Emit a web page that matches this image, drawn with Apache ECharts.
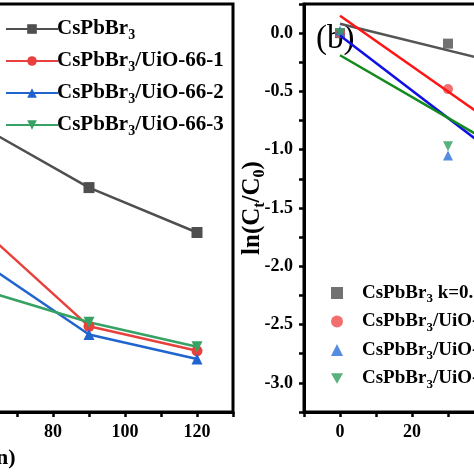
<!DOCTYPE html>
<html><head><meta charset="utf-8">
<script src="https://cdn.jsdelivr.net/npm/echarts/dist/echarts.min.js"></script>
<style>html,body{margin:0;padding:0;background:#fff;}#c{width:474px;height:474px;}</style>
</head><body><div id="c"></div>
<script>
// ---- data ----
const times = [0, 30, 60, 90, 120];
const seriesNames = ['CsPbBr3', 'CsPbBr3/UiO-66-1', 'CsPbBr3/UiO-66-2', 'CsPbBr3/UiO-66-3'];
// panel (a): C/C0 vs time
const ratioCs = [1.0, 0.85, 0.70, 0.55, 0.44];
const ratioU1 = [1.0, 0.66, 0.45, 0.21, 0.15];
const ratioU2 = [1.0, 0.56, 0.37, 0.19, 0.13];
const ratioU3 = [1.0, 0.52, 0.30, 0.22, 0.16];
// panel (b): ln(Ct/C0) vs time
const lnCs = [0.0, -0.09, -0.35, -0.60, -0.82];
const lnU1 = [0.0, -0.48, -1.20, -1.90, -2.50];
const lnU2 = [0.02, -1.05, -1.35, -2.05, -2.85];
const lnU3 = [0.0, -0.97, -1.15, -1.65, -2.30];
const kLabels = ['k=0.0076', 'k=0.0217', 'k=0.0236', 'k=0.0179'];
// linear fit end points (t = 0 and t = 120)
const fitTimes = [0, 120];
const fitCs = [0.08, -0.83];
const fitU1 = [0.15, -2.45];
const fitU2 = [-0.02, -2.85];
const fitU3 = [-0.19, -2.34];
const xTickStep = 20;
const yTickStep = 0.5;

const lineColors = ['#4f4f4f', '#e8403c', '#2064cf', '#36a263'];
const fitColors = ['#555555', '#ff1414', '#1010e6', '#138a1c'];
const markColors = ['#4d4d4d', '#f04a4a', '#2a6fdb', '#2e9e5e'];
const invTri = 'path://M0,0L2,0L1,1.732Z';
const symbols = ['rect', 'circle', 'triangle', invTri];
const FONT = '"Liberation Serif", "Times New Roman", serif';

const ratios = [ratioCs, ratioU1, ratioU2, ratioU3];
const lns = [lnCs, lnU1, lnU2, lnU3];
const fits = [fitCs, fitU1, fitU2, fitU3];
const pairs = (xs, ys) => xs.map((x, i) => [x, ys[i]]);
const rightNames = seriesNames.map((n, i) => n + ' ' + kLabels[i]);
const subFmt = n => n.replace('Br3', 'Br{sub|3}');

const axisCommon = {
  axisLine: {show: true, onZero: false, lineStyle: {color: '#000', width: 3}},
  axisTick: {show: true, inside: false, length: 5, lineStyle: {color: '#000', width: 2.5}},
  splitLine: {show: false},
  axisLabel: {color: '#000', fontFamily: FONT, fontWeight: 'bold', fontSize: 18}
};
const xFmt = v => (Math.abs(v % xTickStep) < 1e-6 ? String(v) : '');
const yFmt = v => (Math.abs(Math.round(v / yTickStep) * yTickStep - v) < 1e-6 ? v.toFixed(1) : '');

const series = [];
ratios.forEach((r, i) => {
  series.push({
    name: seriesNames[i], type: 'line', xAxisIndex: 0, yAxisIndex: 0,
    data: pairs(times, r), symbol: symbols[i], symbolSize: 11,
    lineStyle: {color: lineColors[i], width: 2.5}, itemStyle: {color: lineColors[i]}
  });
});
fits.forEach((f, i) => {
  series.push({
    name: 'fit' + i, type: 'line', xAxisIndex: 1, yAxisIndex: 1,
    data: pairs(fitTimes, f), symbol: 'none',
    lineStyle: {color: fitColors[i], width: 2.5}
  });
});
lns.forEach((l, i) => {
  series.push({
    name: rightNames[i], type: 'scatter', xAxisIndex: 1, yAxisIndex: 1,
    data: pairs(times, l), symbol: symbols[i], symbolSize: 10,
    itemStyle: {color: markColors[i]}
  });
});

const subStyle = {fontFamily: FONT, fontWeight: 'bold', fontSize: 13, padding: [12, 0, 0, 0]};

const option = {
  animation: false,
  backgroundColor: '#fff',
  grid: [
    {left: -307, right: 241, top: 4, bottom: 62, containLabel: false, outerBoundsMode: 'none',
      show: true, borderColor: '#000', borderWidth: 3, backgroundColor: 'transparent'},
    {left: 304, right: -334, top: 4, bottom: 62, containLabel: false, outerBoundsMode: 'none',
      show: true, borderColor: '#000', borderWidth: 3, backgroundColor: 'transparent'}
  ],
  xAxis: [
    Object.assign({}, axisCommon, {type: 'value', gridIndex: 0, min: -20, max: 130, interval: 10,
      name: 'Time (min)', nameLocation: 'middle', nameGap: 35, nameMoveOverlap: false,
      nameTextStyle: {color: '#000', fontFamily: FONT, fontWeight: 'bold', fontSize: 22},
      axisLabel: Object.assign({}, axisCommon.axisLabel, {margin: 11, formatter: xFmt})}),
    Object.assign({}, axisCommon, {type: 'value', gridIndex: 1, min: -10, max: 130, interval: 10,
      name: 'Time (min)', nameLocation: 'middle', nameGap: 35, nameMoveOverlap: false,
      nameTextStyle: {color: '#000', fontFamily: FONT, fontWeight: 'bold', fontSize: 22},
      axisLabel: Object.assign({}, axisCommon.axisLabel, {margin: 11, formatter: xFmt})})
  ],
  yAxis: [
    Object.assign({}, axisCommon, {type: 'value', gridIndex: 0, min: 0, max: 1, interval: 0.1,
      axisLabel: Object.assign({}, axisCommon.axisLabel, {show: false})}),
    Object.assign({}, axisCommon, {type: 'value', gridIndex: 1, min: -3.25, max: 0.25, interval: 0.25,
      name: 'ln(C{sub|t}/C{sub|0})', nameLocation: 'middle', nameGap: 36, nameMoveOverlap: false,
      nameTextStyle: {color: '#000', fontFamily: FONT, fontWeight: 'bold', fontSize: 25,
        rich: {sub: Object.assign({}, subStyle, {fontSize: 16, padding: [14, 0, 0, 0]})}},
      axisLabel: Object.assign({}, axisCommon.axisLabel, {margin: 11, formatter: yFmt})})
  ],
  legend: [
    {data: seriesNames.map(n => ({name: n})), orient: 'vertical', left: 0, top: 12,
      itemWidth: 52, itemHeight: 12, itemGap: 7, selectedMode: false,
      formatter: subFmt,
      textStyle: {color: '#000', fontFamily: FONT, fontWeight: 'bold', fontSize: 21, lineHeight: 24,
        padding: [0, 0, 0, -6], rich: {sub: Object.assign({}, subStyle, {fontSize: 14})}}},
    {data: rightNames.map(n => ({name: n})), orient: 'vertical', left: 326, top: 276,
      itemWidth: 12, itemHeight: 12, itemGap: 4, selectedMode: false,
      formatter: subFmt,
      textStyle: {color: '#000', fontFamily: FONT, fontWeight: 'bold', fontSize: 19, lineHeight: 24,
        padding: [0, 0, 0, 14], rich: {sub: subStyle}}}
  ],
  graphic: [
    {type: 'text', left: 316, top: 23, style: {text: '(b)', font: '33px ' + FONT, fill: '#000'}}
  ],
  series: series
};
const chart = echarts.init(document.getElementById('c'), null, {renderer: 'canvas'});
chart.setOption(option);
</script>
</body></html>
